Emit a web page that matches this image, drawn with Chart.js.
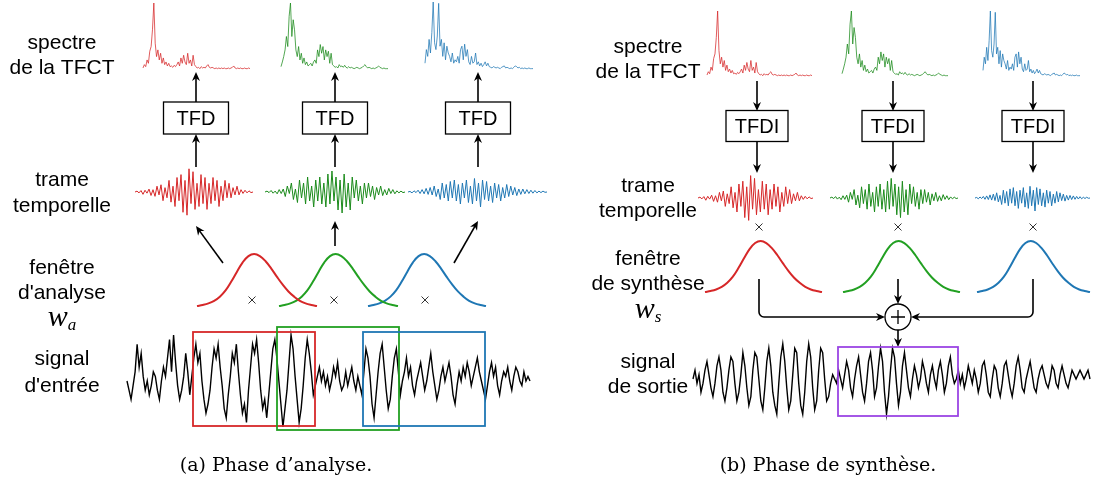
<!DOCTYPE html>
<html>
<head>
<meta charset="utf-8">
<script src="https://cdn.jsdelivr.net/npm/chart.js@4.4.1/dist/chart.umd.min.js"></script>
<style>
  body { margin: 0; background: #fff; }
  canvas { display: block; }
</style>
</head>
<body>
<canvas id="stftChart" width="1098" height="492"></canvas>
<script>
// --- data ---

// input signal (amplitude units, + is up)
const inputSignal = [0,-2,-4,-1,2,8,3,6,1,-2,0,-3,-1,2,1,-2,-4,0,3,1,5,9,2,10,4,-1,-4,-2,1,6,2,-3,
  1,5,8,4,6,0,-4,-7,-5,-2,3,7,5,8,3,-1,-6,-8,-3,1,6,4,8,2,-3,-7,-5,-9,-2,3,8,6,9,4,-2,-6,-4,-8,-3,2,
  7,9,5,0,-5,-10,-6,-2,4,10,7,1,-4,-9,-6,-1,5,9,6,2,-3,-1,
  1,3,0,2,-1,1,-2,0,3,1,4,0,-2,-1,2,-1,1,3,0,-2,1,-1,
  -3,2,7,5,1,-5,-8,-3,2,6,8,3,-2,-6,-4,1,5,7,2,-3,
  0,2,5,1,3,-1,-3,0,2,4,1,-2,0,3,6,2,-1,-4,-2,1,3,0,2,4,1,-3,-5,-1,2,0,3,1,4,2,-1,1,3,5,2,0,
  -2,-4,-1,2,4,1,3,-1,-3,0,2,1,3,0,-2,1,3,2,0,-1,2,0,1,0];

// output signal
const outputSignal = [0,2,-1,1,-3,-1,2,4,1,-2,-4,-1,3,5,2,-3,-5,-2,2,5,4,-1,-5,-3,1,6,3,-2,-6,-4,
  2,6,5,0,-5,-7,-2,4,7,3,-3,-6,-8,-1,5,8,4,-2,-7,-5,1,7,6,-1,-6,-8,-3,4,8,5,-2,-7,-5,2,7,6,0,-5,-4,-1,1,0,
  -1,2,0,-2,1,4,2,-2,-4,0,3,5,1,-3,-5,-1,4,6,2,-4,-2,3,7,4,-3,-8,-4,2,7,5,-1,-6,-3,3,6,2,-2,-4,0,3,
  1,-2,0,4,2,-1,-3,1,3,0,-2,2,4,1,-3,-1,3,5,1,-1,
  0,2,-1,1,-2,0,3,1,-1,2,0,-3,-1,3,4,1,-3,-4,0,3,2,-2,-4,-1,3,4,1,-2,-4,-1,3,5,2,-2,-3,0,2,4,1,-2,
  -3,0,2,3,1,-1,-2,0,3,2,-1,-2,1,3,1,-1,-2,0,2,1,0,1,2,1,0,1,2,0];

// windowed time frames
const redFrame = [0,0.3,-0.3,0.5,-0.8,0.6,-0.4,1,-1.2,0.8,-1.5,2,-1,2.5,-3,1.5,-2,4,-3.5,2,
  -5,5,-3,6,-7,4,-8,8,-4,7,-6,3,-5,6,-4,5,-6,3,-4,5,-3,4,-5,2,-3,4,-2,3,-2,1.5,
  -1,2,-1,0.8,-0.5,0.6,-0.3,0.4,-0.2,0];
const greenFrame = [0,0.3,-0.2,0.5,-0.4,0.3,-0.6,0.8,-0.5,1,-1.5,2,-0.5,3,-2.5,1,-3.5,4,-2,3,
  -4,5,-3,2,-5,4,-3,5,-4,3,-5,6,-4,7,-3,5,-6,4,-7,6,-5,3,-6,5,-2,4,-3,2,-4,3,
  -2,3,-1.5,2,-2.5,1.5,-1,2,-1.2,0.8,-1,1.2,-0.5,0.8,-0.6,0.4,-0.3,0.3,-0.2,0];
const blueFrame = [0,0.2,-0.3,0.4,-0.2,0.6,-0.5,0.8,-0.6,1.2,-0.8,1.5,-1,2,-1.5,1,-2.5,3,-2,2.5,
  -3,3.5,-2,4,-3,2.5,-4,3,-2,4,-3.5,2,-4,4.5,-3,3,-5,4,-2.5,3.5,-3,2,-3.5,3,-2,2.5,-3,1.5,-2,2.5,
  -1.5,2,-1,1.5,-1.2,1,-0.8,1,-0.6,0.8,-0.5,0.6,-0.4,0.5,-0.3,0.3,-0.2,0.3,-0.1,0];

// STFT magnitude spectra (0..1)
const redSpectrum = [0.03,0.08,0.05,0.15,0.1,0.28,0.35,0.6,1.0,0.4,0.2,0.3,0.15,
  0.25,0.1,0.18,0.08,0.12,0.06,0.1,0.05,0.06,0.04,0.07,0.05,
  0.08,0.12,0.06,0.18,0.1,0.22,0.12,0.08,0.25,0.1,0.15,0.06,0.22,0.08,0.05,
  0.03,0.04,0.02,0.05,0.03,0.04,0.03,0.06,0.08,0.04,0.03,0.04,0.03,0.02,0.03,0.02,0.03,0.02,0.03,0.02,
  0.03,0.02,0.02,0.03,0.02,0.03,0.04,0.06,0.03,0.02,0.03,0.02,0.03,0.02,0.02,0.03,0.02,0.02,0.03,0.02];
const greenSpectrum = [0.05,0.12,0.2,0.3,0.5,0.35,0.8,1.0,0.5,0.75,0.6,0.3,0.2,
  0.35,0.15,0.25,0.1,0.18,0.08,0.12,0.06,0.08,0.1,0.06,0.12,
  0.15,0.1,0.3,0.2,0.38,0.25,0.35,0.15,0.3,0.2,0.28,0.1,0.25,0.08,0.06,
  0.04,0.05,0.03,0.08,0.05,0.06,0.04,0.07,0.04,0.03,0.05,0.03,0.04,0.03,0.02,0.03,0.04,0.03,0.02,0.03,
  0.04,0.06,0.08,0.05,0.03,0.04,0.03,0.02,0.03,0.02,0.03,0.04,0.06,0.04,0.03,0.02,0.03,0.02,0.02,0.02];
const blueSpectrum = [0.1,0.3,0.2,0.45,0.25,0.55,1.0,0.4,0.3,0.5,0.98,0.35,0.45,
  0.2,0.4,0.15,0.35,0.25,0.2,0.12,0.25,0.1,0.15,0.12,0.2,
  0.1,0.3,0.35,0.15,0.38,0.2,0.3,0.12,0.08,0.2,0.1,0.12,0.25,0.08,0.12,
  0.06,0.1,0.05,0.08,0.12,0.06,0.1,0.05,0.04,0.03,0.05,0.04,0.03,0.04,0.03,0.02,0.04,0.05,0.06,0.03,
  0.04,0.03,0.02,0.03,0.02,0.04,0.06,0.05,0.03,0.04,0.02,0.03,0.02,0.03,0.02,0.02,0.03,0.02,0.02,0.02];

// window shape (0..1)
const windowShape = [0,0.02,0.05,0.1,0.18,0.3,0.47,0.66,0.84,0.96,1.0,0.96,0.86,0.72,0.56,0.41,0.28,0.18,0.1,0.05,0.02,0];

// --- colours ---
const RED = '#d62728', GREEN = '#22a022', DGREEN = '#1a8a1a', BLUE = '#1f77b4', PURPLE = '#9b45e4';

// turn a list of values into points placed in a slot of the figure
function trace(values, x0, x1, yBase, scale) {
  return values.map((v, i) => ({ x: x0 + (x1 - x0) * i / (values.length - 1), y: yBase - v * scale }));
}

function line(data, color, width, tension) {
  return { data: data, borderColor: color, borderWidth: width, pointRadius: 0, tension: tension || 0, fill: false };
}

const datasets = [
  // (a) analysis
  line(trace(redSpectrum, 143, 250, 70, 67), 'rgba(214,39,40,0.75)', 1),
  line(trace(greenSpectrum, 281, 388, 70, 67), 'rgba(26,138,26,0.75)', 1),
  line(trace(blueSpectrum, 425, 533, 70, 68), 'rgba(31,119,180,0.75)', 1),
  line(trace(redFrame, 135, 253, 192, 2.9), RED, 1),
  line(trace(greenFrame, 265, 405, 192, 3), DGREEN, 1),
  line(trace(blueFrame, 408, 547, 192, 3), BLUE, 1),
  line(trace(windowShape, 197, 317, 306, 52), RED, 2, 0.4),
  line(trace(windowShape, 279, 398, 306, 52), GREEN, 2, 0.4),
  line(trace(windowShape, 368, 486, 306, 52), BLUE, 2, 0.4),
  line(trace(inputSignal, 127, 530, 381, 4.6), '#000', 1.4),
  // (b) synthesis
  line(trace(redSpectrum, 707, 812, 77, 66), 'rgba(214,39,40,0.75)', 1),
  line(trace(greenSpectrum, 842, 948, 77, 66), 'rgba(26,138,26,0.75)', 1),
  line(trace(blueSpectrum, 983, 1080, 77, 66), 'rgba(31,119,180,0.75)', 1),
  line(trace(redFrame, 698, 813, 198, 2.8), RED, 1),
  line(trace(greenFrame, 830, 958, 198, 2.8), DGREEN, 1),
  line(trace(blueFrame, 975, 1090, 198, 2.6), BLUE, 1),
  line(trace(windowShape, 705, 822, 292, 51), RED, 2, 0.4),
  line(trace(windowShape, 843, 960, 292, 51), GREEN, 2, 0.4),
  line(trace(windowShape, 977, 1090, 292, 51), BLUE, 2, 0.4),
  line(trace(outputSignal, 693, 1090, 379, 4.4), '#000', 1.4)
];

// --- annotations: boxes, arrows, labels ---
const LABEL_FONT = '21px "Liberation Sans", Arial, sans-serif';
const CAPTION_FONT = '19px "DejaVu Serif", serif';

const diagram = {
  id: 'diagram',
  afterDatasetsDraw(chart) {
    const ctx = chart.ctx;
    const X = v => chart.scales.x.getPixelForValue(v);
    const Y = v => chart.scales.y.getPixelForValue(v);

    function head(x, y, ang) {
      const L = 9, W = 4;
      ctx.save();
      ctx.translate(X(x), Y(y));
      ctx.rotate(ang);
      ctx.beginPath();
      ctx.moveTo(0, 0);
      ctx.lineTo(-L, -W);
      ctx.lineTo(-L * 0.7, 0);
      ctx.lineTo(-L, W);
      ctx.closePath();
      ctx.fillStyle = '#000';
      ctx.fill();
      ctx.restore();
    }
    function arrow(x0, y0, x1, y1) {
      const ang = Math.atan2(Y(y1) - Y(y0), X(x1) - X(x0));
      ctx.beginPath();
      ctx.moveTo(X(x0), Y(y0));
      ctx.lineTo(X(x1) - 6 * Math.cos(ang), Y(y1) - 6 * Math.sin(ang));
      ctx.strokeStyle = '#000';
      ctx.lineWidth = 1.6;
      ctx.stroke();
      head(x1, y1, ang);
    }
    function rect(x0, y0, x1, y1, color, w) {
      ctx.strokeStyle = color;
      ctx.lineWidth = w;
      ctx.strokeRect(X(x0), Y(y0), X(x1) - X(x0), Y(y1) - Y(y0));
    }
    function box(cx, cy, w, h, label) {
      ctx.fillStyle = '#fff';
      ctx.fillRect(X(cx - w / 2), Y(cy - h / 2), w, h);
      rect(cx - w / 2, cy - h / 2, cx + w / 2, cy + h / 2, '#000', 1.3);
      ctx.fillStyle = '#000';
      ctx.font = '20px "Liberation Sans", Arial, sans-serif';
      ctx.textAlign = 'center';
      ctx.textBaseline = 'middle';
      ctx.fillText(label, X(cx), Y(cy + 1));
    }
    function text(str, x, y, font) {
      ctx.fillStyle = '#000';
      ctx.font = font || LABEL_FONT;
      ctx.textAlign = 'center';
      ctx.textBaseline = 'middle';
      ctx.fillText(str, X(x), Y(y));
    }
    function times(x, y) {
      ctx.strokeStyle = '#333';
      ctx.lineWidth = 1;
      ctx.beginPath();
      ctx.moveTo(X(x - 3.5), Y(y - 3.5)); ctx.lineTo(X(x + 3.5), Y(y + 3.5));
      ctx.moveTo(X(x + 3.5), Y(y - 3.5)); ctx.lineTo(X(x - 3.5), Y(y + 3.5));
      ctx.stroke();
    }
    function mathSym(letter, sub, x, y) {
      ctx.fillStyle = '#000';
      ctx.textBaseline = 'alphabetic';
      ctx.textAlign = 'left';
      ctx.font = 'italic 30px "Liberation Serif", serif';
      const w = ctx.measureText(letter).width;
      ctx.font = 'italic 17px "Liberation Serif", serif';
      const ws = ctx.measureText(sub).width;
      const left = X(x) - (w + ws) / 2;
      ctx.font = 'italic 30px "Liberation Serif", serif';
      ctx.fillText(letter, left, Y(y));
      ctx.font = 'italic 17px "Liberation Serif", serif';
      ctx.fillText(sub, left + w, Y(y + 4));
    }

    // ---- (a) analysis ----
    text('spectre', 62, 43); text('de la TFCT', 62, 68);
    text('trame', 62, 180); text('temporelle', 62, 206);
    text('fenêtre', 62, 268); text("d'analyse", 62, 293);
    mathSym('w', 'a', 62, 326);
    text('signal', 62, 359); text("d'entrée", 62, 386);

    rect(193, 332, 315, 426, RED, 1.8);
    rect(277, 327, 399, 430, GREEN, 1.8);
    rect(363, 332, 485, 426, BLUE, 1.8);

    [196, 335, 478].forEach(cx => {
      box(cx, 118, 65, 32, 'TFD');
      arrow(cx, 102, cx, 72);
      arrow(cx, 167, cx, 134);
    });
    arrow(223, 263, 196, 226);
    arrow(335, 246, 335, 221);
    arrow(454, 263, 478, 221);
    times(252, 300); times(334, 300); times(425, 300);

    text('(a) Phase d\u2019analyse.', 276, 466, CAPTION_FONT);

    // ---- (b) synthesis ----
    text('spectre', 648, 47); text('de la TFCT', 648, 72);
    text('trame', 648, 186); text('temporelle', 648, 211);
    text('fenêtre', 648, 259); text('de synthèse', 648, 284);
    mathSym('w', 's', 648, 318);
    text('signal', 648, 362); text('de sortie', 648, 387);

    [757, 893, 1033].forEach(cx => {
      arrow(cx, 81, cx, 111);
      box(cx, 126, 62, 31, 'TFDI');
      arrow(cx, 142, cx, 173);
    });
    times(759, 227); times(898, 227); times(1033, 227);

    // summation node
    const cxs = 898, cys = 317, r = 13;
    ctx.strokeStyle = '#000';
    ctx.lineWidth = 1.6;
    ctx.beginPath();
    ctx.moveTo(X(759), Y(279));
    ctx.arcTo(X(759), Y(cys), X(800), Y(cys), 5);
    ctx.lineTo(X(cxs - r - 6), Y(cys));
    ctx.moveTo(X(1033), Y(279));
    ctx.arcTo(X(1033), Y(cys), X(1000), Y(cys), 5);
    ctx.lineTo(X(cxs + r + 6), Y(cys));
    ctx.stroke();
    head(cxs - r, cys, 0);
    head(cxs + r, cys, Math.PI);
    arrow(cxs, 279, cxs, cys - r);
    ctx.beginPath();
    ctx.arc(X(cxs), Y(cys), r, 0, Math.PI * 2);
    ctx.fillStyle = '#fff';
    ctx.fill();
    ctx.lineWidth = 1.3;
    ctx.stroke();
    ctx.beginPath();
    ctx.moveTo(X(cxs - 7), Y(cys)); ctx.lineTo(X(cxs + 7), Y(cys));
    ctx.moveTo(X(cxs), Y(cys - 7)); ctx.lineTo(X(cxs), Y(cys + 7));
    ctx.stroke();
    arrow(cxs, cys + r, cxs, 347);

    rect(838, 347, 958, 416, PURPLE, 1.8);

    text('(b) Phase de synth\u00e8se.', 828, 466, CAPTION_FONT);
  }
};

new Chart(document.getElementById('stftChart'), {
  type: 'line',
  data: { datasets: datasets },
  options: {
    responsive: false,
    animation: false,
    layout: { padding: 0 },
    plugins: { legend: { display: false }, tooltip: { enabled: false } },
    scales: {
      x: { type: 'linear', min: 0, max: 1098, display: false },
      y: { type: 'linear', min: 0, max: 492, reverse: true, display: false }
    }
  },
  plugins: [diagram]
});
</script>
</body>
</html>
